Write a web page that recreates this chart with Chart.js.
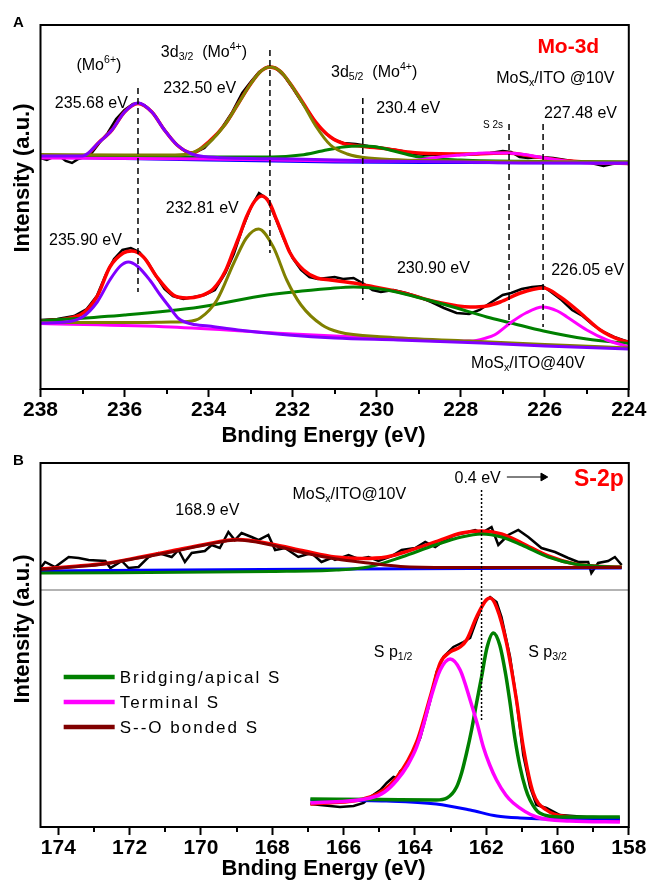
<!DOCTYPE html>
<html>
<head>
<meta charset="utf-8">
<script src="https://cdn.jsdelivr.net/npm/chart.js@4.4.1/dist/chart.umd.min.js"></script>
<style>
  html, body { margin: 0; padding: 0; background: #fff; overflow: hidden; width: 647px; height: 880px; }
  canvas { position: absolute; left: 0; }
  #chartA { top: 0; }
  #chartB { top: 449px; }
</style>
</head>
<body>
<canvas id="chartA" width="652" height="449"></canvas>
<canvas id="chartB" width="652" height="433"></canvas>
<script>
// ---- panel A : Mo-3d, [binding energy eV, intensity] ----
const a10Raw = [[238.0,231],[237.85,229],[237.7,232],[237.55,233],[237.4,228],[237.25,226],[237.1,230],[236.95,232],[236.8,235],[236.6,246],[236.4,256],[236.2,270],[236.0,279],[235.8,285],[235.65,286],[235.5,283],[235.3,275],[235.1,262],[234.9,251],[234.7,242],[234.5,236],[234.3,237],[234.1,241],[233.9,250],[233.7,260],[233.45,276],[233.2,296],[233.0,307],[232.8,317],[232.6,322],[232.4,321],[232.2,313],[232.0,301],[231.8,288],[231.6,276],[231.4,263],[231.2,255],[231.0,249],[230.8,246],[230.5,245],[230.2,243],[230.0,242],[229.7,240],[229.4,238],[229.1,235],[228.8,234],[228.5,234],[228.2,235],[227.9,234],[227.6,235],[227.3,236],[227.0,238],[226.8,237],[226.6,232],[226.4,231],[226.1,232],[225.8,231],[225.5,229],[225.2,227],[224.9,226],[224.6,223],[224.4,225],[224.2,226],[224.0,225]];
const a10Fit = [[238,232],[237,232],[236.6,247],[236.3,259],[236.0,277],[235.68,285.5],[235.35,277],[235.05,259],[234.75,244],[234.4,236],[234.0,247],[233.6,265],[233.3,285],[233.0,305],[232.75,318],[232.54,322],[232.3,318],[232.05,305],[231.75,286],[231.45,267],[231.1,252],[230.75,245],[230.4,243],[229.75,240],[229.0,236],[227.8,235],[226.9,236],[226.2,232],[225.4,228],[224.6,226],[224,225.5]];
const a10Mo6 = [[238,233],[237,233],[236.6,247],[236.3,259],[236.0,277],[235.68,286],[235.35,277],[235.05,259],[234.75,244],[234.4,235],[234,232],[232,230],[230,228],[228,227],[226,226],[224,226]];
const a10D32 = [[238,234.5],[236,234],[234.8,234],[234.4,236],[234.0,246],[233.6,265],[233.3,285],[233.0,305],[232.75,318],[232.54,322],[232.3,318],[232.05,305],[231.75,285],[231.45,263],[231.1,244],[230.7,235],[230.2,231],[228,228],[224,227]];
const a10D52 = [[238,233],[234,232],[232.5,232],[231.8,234],[231.3,238],[230.8,242],[230.4,243],[230.0,242],[229.5,237],[229.0,232],[228,229],[226,227.5],[224,227]];
const a10S2s = [[238,231],[234,230],[230,228],[229,229],[228.5,232],[228,234],[227.4,236],[226.9,236],[226.4,234],[226,231],[225.5,228],[225,226],[224,226]];
const a10Bg = [[238,232],[234,229],[231,227],[228,226.5],[224,226]];

const a40Raw = [[238,69],[237.6,70],[237.2,73],[236.9,80],[236.66,93],[236.45,114],[236.25,130],[236.05,139],[235.85,141],[235.65,137],[235.45,127],[235.25,113],[235.05,100],[234.85,93],[234.6,90],[234.35,92],[234.1,94],[233.85,99],[233.6,116],[233.4,135],[233.2,160],[233.0,181],[232.8,196],[232.6,190],[232.4,170],[232.2,149],[232.0,131],[231.8,119],[231.6,112],[231.4,110],[231.2,111],[231.0,112],[230.8,110],[230.55,111],[230.3,105],[230.1,99],[229.9,97],[229.6,99],[229.3,96],[229.0,92],[228.7,87],[228.4,81],[228.1,76],[227.8,75],[227.55,79],[227.3,86],[227.0,94],[226.8,96],[226.55,100],[226.3,102],[226.05,103],[225.85,97],[225.6,89],[225.35,79],[225.1,73],[224.85,64],[224.6,57],[224.35,52],[224.0,47]];
const a40Fit = [[238,68],[237.06,74],[236.66,92],[236.35,122],[236.03,136],[235.83,138],[235.55,132],[235.23,112],[234.84,94],[234.52,91],[234.2,93],[233.89,100],[233.6,118],[233.41,138],[233.25,155],[233.1,172],[232.9,188],[232.73,193],[232.55,186],[232.38,169],[232.2,150],[232.06,136],[231.74,119],[231.42,111],[231.1,109],[230.55,106],[230.3,104],[229.36,96],[228.57,87],[227.77,82],[227.38,83],[227.06,87],[226.58,96],[226.03,101],[225.63,92],[225.15,76],[224.68,59],[224.2,49],[224,47]];
const a40Mo6 = [[238,66],[237.4,67],[237.0,72],[236.65,87],[236.35,109],[236.1,123],[235.91,127],[235.7,123],[235.4,109],[235.15,94],[234.95,83],[234.7,70],[234.4,65],[234.0,63],[233.3,59],[232.1,54],[231.0,51],[229.5,49],[227.5,46],[226,43],[224,40]];
const a40D32 = [[238,66.5],[236,66.5],[234.9,67],[234.5,67.5],[234.2,71],[233.8,89],[233.4,126],[233.1,151],[232.81,160],[232.46,142],[232.14,109],[231.8,84],[231.3,64],[230.9,57],[229.8,52],[227.8,48],[226,44.5],[224,41]];
const a40D52 = [[238,68],[236,74],[234.2,82],[232.6,94],[231.1,100.5],[230.55,102],[229.76,99],[228.96,91],[228.18,82],[227.38,72],[226.8,66],[226.03,58],[225.0,50],[224,45.5]];
const a40S2s = [[238,65.5],[234.9,62],[232,55],[229.5,50],[228.2,48],[227.77,48],[227.4,51],[227.2,54],[226.82,66],[226.45,76],[226.05,82],[225.7,78],[225.47,72],[225.0,59],[224.52,49],[224,42]];

// peak markers: [eV, top, bottom]
const aMarkers = [[235.68,301,97],[232.54,339,136],[230.33,291,89],[226.85,265,64],[226.04,265,62]];

const aLabels = [
  [236.61, 325, "(Mo^{6+})"],
  [234.11, 338, "3d_{3/2}  (Mo^{4+})"],
  [236.79, 287, "235.68 eV"],
  [234.21, 302, "232.50 eV"],
  [230.06, 318, "3d_{5/2}  (Mo^{4+})"],
  [225.44, 344, "Mo-3d"],
  [225.75, 312, "MoS_{x}/ITO @10V"],
  [229.25, 282, "230.4 eV"],
  [227.23, 265, "S 2s"],
  [225.15, 277, "227.48 eV"],
  [236.93, 150, "235.90 eV"],
  [234.15, 182, "232.81 eV"],
  [228.65, 122, "230.90 eV"],
  [224.98, 120, "226.05 eV"],
  [226.4, 27, "MoS_{x}/ITO@40V"],
];

// ---- panel B : S-2p ----
const bTopRaw = [[174.55,257],[174.37,265],[174.09,260],[173.71,270],[173.43,269],[173.15,267],[172.68,266],[172.54,259],[172.22,266],[172.03,259],[171.75,260],[171.47,270],[171.19,274],[170.82,270],[170.63,277],[170.45,265],[170.26,274],[169.89,276],[169.7,282],[169.47,279],[169.23,295],[169.05,287],[168.86,294],[168.58,290],[168.39,287],[168.11,292],[167.92,277],[167.64,279],[167.27,270],[166.9,274],[166.62,265],[166.34,269],[166.24,267],[165.86,272],[165.58,268],[165.3,270],[165.02,266],[164.65,271],[164.37,277],[163.99,279],[163.71,285],[163.43,280],[163.15,287],[162.87,292],[162.5,295],[162.31,297],[162.13,294],[161.85,300],[161.66,282],[161.38,292],[161.1,297],[160.82,290],[160.45,279],[160.07,275],[159.7,269],[159.42,265],[159.14,265],[159.05,254],[158.86,264],[158.58,266],[158.39,270],[158.2,262]];
const bTopFit = [[174.5,258],[173.6,260.5],[172.7,263.5],[171.76,269.5],[170.83,276],[169.9,282.5],[168.97,287.5],[168.03,283],[167.1,276],[166.24,270],[165.5,268.5],[164.8,270],[164.37,274],[163.43,285],[162.69,294],[162.13,296],[161.57,293],[161.0,284],[160.26,271],[159.51,263],[158.76,260.5],[158.2,260]];
const bTopBridge = [[174.5,254],[168,255.5],[166.2,257],[165.3,260],[164.37,270],[163.43,282],[162.69,290],[162.13,293],[161.57,290],[161.0,282],[160.26,270],[159.51,263],[158.76,260.5],[158.2,260]];
const bTopSO = [[174.5,257.5],[173.6,260],[172.7,263],[171.76,269],[170.83,275],[169.9,282],[168.97,287],[168.03,282],[167.1,274],[166.2,268],[165.3,264],[164.4,260.5],[163,259.5],[158.2,259.5]];
const bTopBg = [[174.5,256],[166,258],[158.2,259]];

const bLowRaw = [[166.93,23],[166.66,22],[166.1,20],[165.72,21],[165.44,24],[165.25,30],[164.97,37],[164.79,44],[164.6,50],[164.5,49],[164.41,56],[164.23,60],[164.04,74],[163.85,89],[163.57,126],[163.39,155],[163.2,170],[162.92,180],[162.64,185],[162.45,189],[162.27,207],[162.08,224],[161.89,230],[161.71,225],[161.57,210],[161.33,170],[161.15,127],[160.96,72],[160.77,40],[160.59,22],[160.31,19],[159.93,12],[159.56,11],[159.18,10],[159.0,10],[158.25,9]];
const bLowFit = [[166.93,23],[165.25,30],[164.5,50],[163.95,85],[163.57,130],[163.29,164],[163.01,175],[162.73,180],[162.55,187],[162.27,210],[162.0,227],[161.89,229],[161.71,220],[161.43,184],[161.15,127],[160.96,80],[160.68,34],[160.31,17],[159.65,10],[158.25,6]];
const bLowBridge = [[166.93,28],[165,27.5],[163.4,27],[163.1,29],[162.83,40],[162.69,54],[162.55,74],[162.41,97],[162.27,124],[162.13,150],[161.98,179],[161.8,194],[161.62,182],[161.45,152],[161.33,124],[161.2,90],[161.05,60],[160.9,39],[160.77,27],[160.5,14],[159.93,10],[158.25,10]];
const bLowTerminal = [[166.93,24],[165.25,29],[164.85,35],[164.5,47],[164.2,62],[163.95,80],[163.75,103],[163.57,127],[163.29,157],[163.01,168],[162.73,157],[162.45,127],[162.25,103],[162.08,80],[161.9,62],[161.71,47],[161.45,32],[161.24,24],[160.59,10],[159.65,6],[158.25,5]];
const bLowBg = [[166.93,27],[164.8,26],[163.4,23],[162.45,17],[161.7,11],[161.05,9],[160.1,8],[158.25,8]];

const bMarker = [162.13, 337, 107];
const bDivider = [[174.5,237],[158,237]];
const bArrow = [[161.42,350],[160.4,350]];

const bLabels = [
  [169.82, 318, "168.9 eV"],
  [165.84, 334, "MoS_{x}/ITO@10V"],
  [162.24, 350, "0.4 eV"],
  [158.84, 349, "S-2p"],
  [164.61, 176, "S p_{1/2}"],
  [160.28, 176, "S p_{3/2}"],
];
const bLegendAt = [173.85, 150];
const bLegendLabels = ["Bridging/apical S", "Terminal S", "S--O bonded S"];

const xTicksA = [224, 238];
const xTicksB = [158, 174.5];

// ---- styles ----
const FONT = 'Arial, "Liberation Sans", sans-serif';
const C = { raw: "#000000", fit: "#ff0000", mo6: "#8000ff", d32: "#808000", d52: "#008000",
            s2s: "#ff00ff", bg: "#0000ff", so: "#800000", divider: "#9a9a9a" };
const labelStyle = {
  "Mo-3d": { size: 21, weight: "bold", color: C.fit },
  "S-2p": { size: 23, weight: "bold", color: C.fit },
  "S 2s": { size: 10 },
};

const xy = (arr) => arr.map(([x, y]) => ({ x, y }));

function curve(arr, color, width, smooth = true) {
  return {
    data: xy(arr), borderColor: color, borderWidth: width, pointRadius: 0, fill: false,
    cubicInterpolationMode: smooth ? "monotone" : "default", tension: smooth ? 0.4 : 0,
  };
}

function marker([e, top, bot], dash) {
  return { data: xy([[e, top], [e, bot]]), borderColor: "#000", borderWidth: 1.5,
           borderDash: dash, pointRadius: 0, fill: false };
}

function rich(ctx, str, cx, cy, size, weight, color) {
  const parts = [];
  str.replace(/([_^])\{([^}]*)\}|([^_^]+)/g, (m, k, s, t) => {
    parts.push(k ? { t: s, k } : { t, k: "" });
    return m;
  });
  let w = 0;
  for (const p of parts) {
    p.fs = p.k ? size * 0.66 : size;
    ctx.font = `${weight} ${p.fs}px ${FONT}`;
    p.w = ctx.measureText(p.t).width;
    w += p.w;
  }
  let xx = cx - w / 2;
  const base = cy + size * 0.36;
  ctx.fillStyle = color;
  ctx.textAlign = "left";
  ctx.textBaseline = "alphabetic";
  for (const p of parts) {
    ctx.font = `${weight} ${p.fs}px ${FONT}`;
    const dy = p.k === "^" ? -size * 0.4 : p.k === "_" ? size * 0.22 : 0;
    ctx.fillText(p.t, xx, base + dy);
    xx += p.w;
  }
}

const decor = {
  id: "decor",
  afterDatasetsDraw(chart, _args, o) {
    const { ctx, chartArea: a, scales: { x, y } } = chart;
    ctx.save();
    ctx.strokeStyle = "#000";
    ctx.lineWidth = 2;
    ctx.strokeRect(a.left, a.top, a.right - a.left, a.bottom - a.top);

    // minor ticks
    ctx.beginPath();
    for (let v = Math.ceil(x.min); v <= x.max; v++) {
      if (v % 2 === 0) continue;
      const px = Math.round(x.getPixelForValue(v));
      ctx.moveTo(px, a.bottom);
      ctx.lineTo(px, a.bottom + 5);
    }
    ctx.stroke();

    // axis titles
    ctx.fillStyle = "#000";
    ctx.font = `bold 22px ${FONT}`;
    ctx.textAlign = "center";
    ctx.textBaseline = "middle";
    ctx.fillText("Bnding Energy (eV)", 323.5, a.bottom + o.xTitleDy);
    ctx.save();
    ctx.translate(a.left - 17.5, y.getPixelForValue(o.yTitleAt));
    ctx.rotate(-Math.PI / 2);
    ctx.fillText("Intensity (a.u.)", 0, 0);
    ctx.restore();

    // panel letter
    ctx.font = `bold 15px ${FONT}`;
    ctx.textAlign = "left";
    ctx.textBaseline = "alphabetic";
    ctx.fillText(o.panel, 13, a.top + 2);

    for (const [e, v, text] of o.labels) {
      const st = labelStyle[text] || {};
      rich(ctx, text, x.getPixelForValue(e), y.getPixelForValue(v),
           st.size || 16, st.weight || "normal", st.color || "#000");
    }

    if (o.legend) {
      const lx = x.getPixelForValue(o.legend.at[0]);
      const ly = y.getPixelForValue(o.legend.at[1]);
      o.legend.items.forEach(([label, color], i) => {
        const yy = ly + i * 25;
        ctx.strokeStyle = color;
        ctx.lineWidth = 4.5;
        ctx.beginPath();
        ctx.moveTo(lx, yy);
        ctx.lineTo(lx + 51, yy);
        ctx.stroke();
        ctx.font = `17px ${FONT}`;
        ctx.letterSpacing = "2px";
        ctx.fillStyle = "#000";
        ctx.textBaseline = "middle";
        ctx.fillText(label, lx + 56, yy + 1);
        ctx.letterSpacing = "0px";
      });
    }
    ctx.restore();
  },
};

function xScale([min, max], height) {
  return {
    type: "linear", reverse: true, min, max,
    ticks: {
      stepSize: 1, includeBounds: false, autoSkip: false, maxRotation: 0, padding: 1,
      color: "#000", font: { family: FONT, size: 21, weight: "bold" },
      callback: (v) => (v % 2 === 0 ? String(v) : ""),
    },
    grid: {
      drawOnChartArea: false, drawTicks: true, tickLength: 8, tickWidth: 2,
      tickColor: (c) => (c.tick && c.tick.value % 2 === 0 ? "#000" : "rgba(0,0,0,0)"),
    },
    border: { display: false },
    title: { display: false },
    afterFit: (s) => { s.height = height; },
  };
}

function makeChart(id, datasets, xr, axisH, padTop, plug) {
  return new Chart(document.getElementById(id), {
    type: "line",
    data: { datasets },
    options: {
      responsive: false, animation: false, events: [],
      layout: { padding: { left: 40.5, right: 652 - 628.8, top: padTop, bottom: 0 } },
      plugins: { legend: { display: false }, tooltip: { enabled: false }, decor: plug },
      scales: { x: xScale(xr, axisH), y: { display: false, min: 0, max: 364 } },
    },
    plugins: [decor],
  });
}

// first dataset is drawn on top
const dsA = [
  ...aMarkers.map((m) => marker(m, [6, 4])),
  curve(a10Mo6, C.mo6, 3), curve(a10D32, C.d32, 3), curve(a10S2s, C.s2s, 3),
  curve(a10D52, C.d52, 3), curve(a10Bg, C.bg, 3), curve(a10Fit, C.fit, 3.5),
  curve(a10Raw, C.raw, 2.5, false),
  curve(a40Mo6, C.mo6, 3), curve(a40D32, C.d32, 3), curve(a40S2s, C.s2s, 3),
  curve(a40D52, C.d52, 3), curve(a40Fit, C.fit, 3.5), curve(a40Raw, C.raw, 2.5, false),
];

const dsB = [
  marker(bMarker, [2, 2]),
  { data: xy(bArrow), borderColor: "#000", borderWidth: 1, fill: false,
    pointRadius: (c) => (c.dataIndex === 1 ? 4.5 : 0), pointStyle: "triangle", pointRotation: 90,
    pointBackgroundColor: "#000", pointBorderColor: "#000" },
  curve(bTopSO, C.so, 3), curve(bTopBridge, C.d52, 3), curve(bTopBg, C.bg, 3),
  curve(bTopFit, C.fit, 3.5), curve(bTopRaw, C.raw, 2.5, false),
  curve(bLowTerminal, C.s2s, 3.5), curve(bLowBridge, C.d52, 3.5), curve(bLowBg, C.bg, 3),
  curve(bLowFit, C.fit, 3.5), curve(bLowRaw, C.raw, 2.5, false),
  { data: xy(bDivider), borderColor: C.divider, borderWidth: 1.5, pointRadius: 0, fill: false },
];

makeChart("chartA", dsA, xTicksA, 60, 25,
  { panel: "A", labels: aLabels, yTitleAt: 211, xTitleDy: 47 });
makeChart("chartB", dsB, xTicksB, 55, 14,
  { panel: "B", labels: bLabels, yTitleAt: 198, xTitleDy: 42,
    legend: { at: bLegendAt, items: bLegendLabels.map((l, i) => [l, [C.d52, C.s2s, C.so][i]]) } });
</script>
</body>
</html>
